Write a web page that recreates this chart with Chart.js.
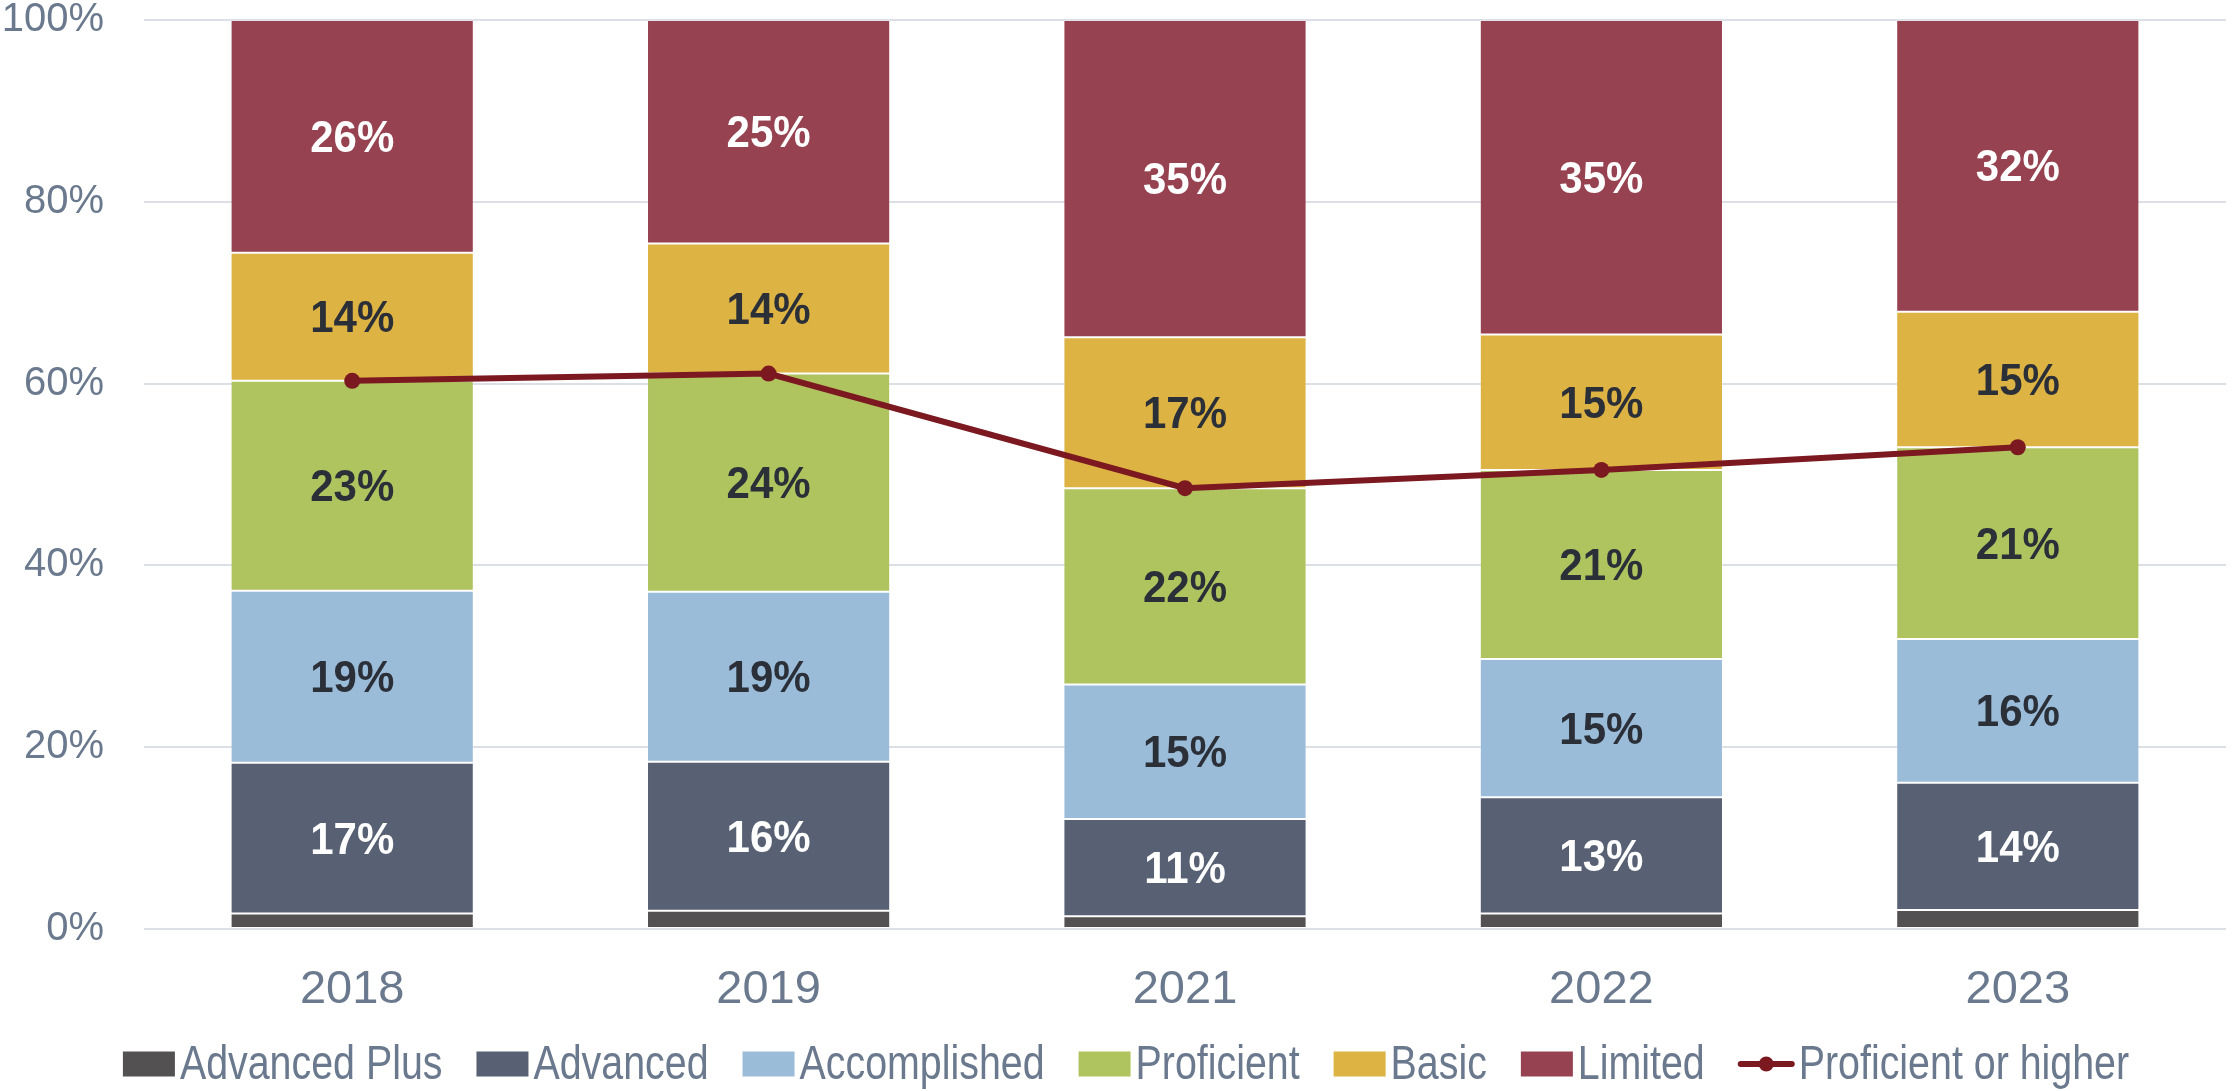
<!DOCTYPE html>
<html>
<head>
<meta charset="utf-8">
<script src="https://cdn.jsdelivr.net/npm/chart.js@4.4.1/dist/chart.umd.min.js"></script>
<style>
  html, body { margin: 0; padding: 0; background: #fff; }
  #wrap { width: 2234px; height: 1091px; position: relative; }
</style>
</head>
<body>
<div id="wrap"><canvas id="levels-chart"></canvas></div>
<script>
// categories (years) and the share of students at each level, in %
var categories = ['2018', '2019', '2021', '2022', '2023'];
var advancedPlus = [1.7, 2.0, 1.4, 1.7, 2.1];
var advanced = [16.6, 16.4, 10.7, 12.8, 14.0];
var accomplished = [18.9, 18.7, 14.8, 15.2, 15.8];
var proficient = [23.1, 24.0, 21.6, 20.8, 21.1];
var basic = [14.1, 14.3, 16.6, 14.9, 14.9];
var limited = [25.6, 24.6, 34.9, 34.6, 32.1];
var proficientOrHigher = [60.3, 61.1, 48.5, 50.5, 53.0];
var yTicks = [0, 20, 40, 60, 80, 100];

var tickColor = '#6a798d';
var font = "'Liberation Sans', Arial, sans-serif";

function barSet(label, data, color, labelColor) {
    return {
        type: 'bar',
        label: label,
        data: data,
        backgroundColor: color,
        borderColor: 'rgba(255,255,255,0.18)',
        borderWidth: 1,
        borderSkipped: false,
        stack: 'levels',
        order: 1,
        barPercentage: 0.584,
        categoryPercentage: 1.0,
        valueLabelColor: labelColor
    };
}

// value labels inside the bar segments
var segmentLabels = {
    id: 'segmentLabels',
    afterDatasetsDraw: function(chart) {
        var ctx = chart.ctx;
        ctx.save();
        ctx.font = 'bold 42px ' + font;
        ctx.textAlign = 'center';
        ctx.textBaseline = 'middle';
        chart.data.datasets.forEach(function(ds, i) {
            if (!ds.valueLabelColor) return;
            var meta = chart.getDatasetMeta(i);
            meta.data.forEach(function(el, j) {
                var cy = (el.y + el.base) / 2;
                ctx.fillStyle = ds.valueLabelColor;
                ctx.save();
                ctx.translate(el.x, cy);
                ctx.scale(1, 1.07);
                ctx.fillText(Math.round(ds.data[j]) + '%', 0, 3);
                ctx.restore();
            });
        });
        ctx.restore();
    }
};

// legend drawn by hand (narrow text, small gap after the key)
var bottomLegend = {
    id: 'bottomLegend',
    afterDraw: function(chart) {
        var ctx = chart.ctx;
        var squeeze = 0.82, boxW = 52, boxH = 25, gap = 5, spacing = 34;
        var cy = 1064;
        ctx.save();
        ctx.font = '48px ' + font;
        ctx.textBaseline = 'middle';
        var items = chart.data.datasets.map(function(ds) {
            var w = ctx.measureText(ds.label).width * squeeze;
            var keyW = ds.type === 'line' ? 55 : boxW;
            return { ds: ds, w: w, keyW: keyW };
        });
        var total = 0;
        items.forEach(function(it, k) {
            total += it.keyW + gap + it.w + (k < items.length - 1 ? spacing : 0);
        });
        var x = (chart.width - total) / 2 + 9;
        items.forEach(function(it) {
            var ds = it.ds;
            if (ds.type === 'line') {
                ctx.strokeStyle = ds.borderColor;
                ctx.lineWidth = 6;
                ctx.lineCap = 'round';
                ctx.beginPath();
                ctx.moveTo(x + 2, cy);
                ctx.lineTo(x + it.keyW - 2, cy);
                ctx.stroke();
                ctx.fillStyle = ds.borderColor;
                ctx.beginPath();
                ctx.arc(x + it.keyW / 2, cy, 7.5, 0, Math.PI * 2);
                ctx.fill();
            } else {
                ctx.fillStyle = ds.backgroundColor;
                ctx.fillRect(x, cy - boxH / 2, boxW, boxH);
            }
            x += it.keyW + gap;
            ctx.fillStyle = tickColor;
            ctx.save();
            ctx.translate(x, cy + 2);
            ctx.scale(squeeze, 1);
            ctx.fillText(ds.label, 0, 0);
            ctx.restore();
            x += it.w + spacing;
        });
        ctx.restore();
    }
};

var chartData = {
    labels: categories,
    datasets: [
        barSet('Advanced Plus', advancedPlus, '#545152', null),
        barSet('Advanced', advanced, '#586174', '#ffffff'),
        barSet('Accomplished', accomplished, '#9bbcd9', '#2b2f38'),
        barSet('Proficient', proficient, '#afc35f', '#2b2f38'),
        barSet('Basic', basic, '#ddb343', '#2b2f38'),
        barSet('Limited', limited, '#974250', '#ffffff'),
        {
            type: 'line',
            label: 'Proficient or higher',
            data: proficientOrHigher,
            borderColor: '#7b1820',
            backgroundColor: '#7b1820',
            borderWidth: 6,
            pointRadius: 8,
            pointHoverRadius: 8,
            pointBackgroundColor: '#7b1820',
            pointBorderWidth: 0,
            stack: 'line',
            order: 0,
            tension: 0
        }
    ]
};

var ctx = document.getElementById('levels-chart').getContext('2d');
new Chart(ctx, {
    type: 'bar',
    data: chartData,
    plugins: [segmentLabels, bottomLegend],
    options: {
        responsive: true,
        maintainAspectRatio: false,
        animation: false,
        layout: { padding: { top: 0, right: 0, left: 0, bottom: 81 } },
        plugins: {
            legend: { display: false },
            tooltip: { enabled: false }
        },
        scales: {
            x: {
                stacked: true,
                grid: { display: false },
                border: { display: false },
                afterFit: function(scale) {
                    scale.height = 81;
                    scale.paddingLeft = 0;
                    scale.paddingRight = 0;
                },
                ticks: {
                    color: tickColor,
                    font: { family: font, size: 47 },
                    padding: 25
                }
            },
            y: {
                stacked: true,
                min: 0,
                max: 100,
                afterBuildTicks: function(scale) {
                    scale.ticks = yTicks.map(function(v) { return { value: v }; });
                },
                afterFit: function(scale) {
                    scale.width = 144;
                    scale.paddingTop = 20;
                    scale.paddingBottom = 0;
                },
                grid: { color: '#dcdfe5', lineWidth: 2, drawTicks: false },
                border: { display: false },
                ticks: {
                    color: tickColor,
                    font: { family: font, size: 40 },
                    padding: 40,
                    callback: function(v) { return v + '%'; }
                }
            }
        }
    }
});
</script>
</body>
</html>
